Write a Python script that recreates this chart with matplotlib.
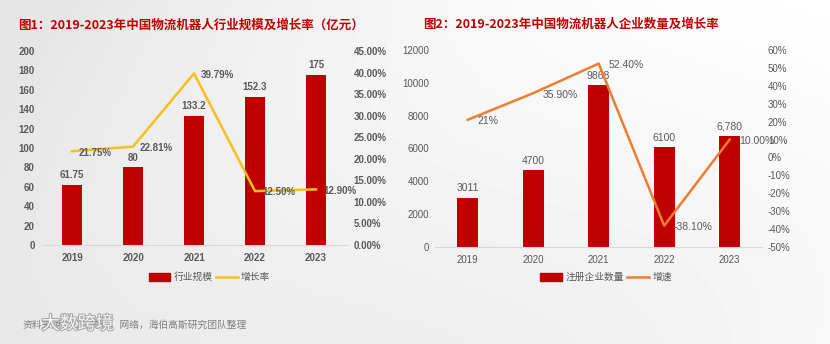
import numpy as np
import matplotlib.pyplot as plt
import matplotlib.patheffects as pe
from matplotlib.ticker import FuncFormatter

plt.rcParams['font.family'] = ['Noto Sans CJK SC', 'DejaVu Sans']

years = ['2019', '2020', '2021', '2022', '2023']

# chart 1: market size (100M yuan) and growth rate (%)
market_size = [61.75, 80, 133.2, 152.3, 175]
market_size_labels = ['61.75', '80', '133.2', '152.3', '175']
market_growth = [21.75, 22.81, 39.79, 12.50, 12.90]

# chart 2: registered companies and growth rate (%)
company_count = [3011, 4700, 9868, 6100, 6780]
company_count_labels = ['3011', '4700', '9868', '6100', '6,780']
company_growth = [21, 35.90, 52.40, -38.10, 10.00]
company_growth_labels = ['21%', '35.90%', '52.40%', '-38.10%', '10.00%']

RED = '#C00000'
GOLD = '#F5C01A'
ORANGE = '#ED7D31'
GREY = '#595959'
LAT = ['Liberation Sans', 'DejaVu Sans']

fig = plt.figure(figsize=(8.3, 3.44), dpi=100)

# soft grey-to-white backdrop
bg = fig.add_axes([0, 0, 1, 1], zorder=-10)
gx, gy = np.meshgrid(np.linspace(0, 1, 200), np.linspace(0, 1, 100))
shade = 0.90 + 0.10 * np.clip(gx * 1.1 - 0.15 + 0.25 * np.sin(3 * gx + 2 * gy), 0, 1)
bg.imshow(shade, cmap='gray', vmin=0, vmax=1, aspect='auto', extent=[0, 1, 0, 1])
bg.axis('off')

x = np.arange(len(years))


def style_axes(ax, ax2, bold, pad):
    for a in (ax, ax2):
        for s in ['top', 'left', 'right', 'bottom']:
            a.spines[s].set_visible(False)
        a.tick_params(length=0, colors=GREY, labelsize=7, pad=pad)
        for lab in a.get_xticklabels() + a.get_yticklabels():
            lab.set_fontweight('bold' if bold else 'normal')
            lab.set_family(LAT)
        a.set_facecolor('none')
    ax.spines['bottom'].set_visible(True)
    ax.spines['bottom'].set_color('#d9d9d9')


# ---- chart 1 ----
ax1 = fig.add_axes([0.05, 0.2878, 0.3675, 0.564])
ax1b = ax1.twinx()
ax1.bar(x, market_size, width=0.33, color=RED, zorder=2)
for xi, v, t in zip(x, market_size, market_size_labels):
    ax1.text(xi, v + 5, t, ha='center', va='bottom', fontsize=7, color=GREY,
             fontweight='bold', family=LAT)
ax1b.plot(x, market_growth, color=GOLD, lw=1.8, zorder=3)
for xi, v in zip(x, market_growth):
    ax1b.annotate('{:.2f}%'.format(v), (xi, v), xytext=(5, -1), textcoords='offset points',
                  ha='left', va='center', fontsize=7, color=GREY, fontweight='bold',
                  family=LAT)
ax1.set_xlim(-0.5, 4.5)
ax1.set_ylim(0, 200)
ax1.set_yticks(np.arange(0, 201, 20))
ax1b.set_ylim(0, 45)
ax1b.set_yticks(np.arange(0, 45.1, 5))
ax1b.yaxis.set_major_formatter(FuncFormatter(lambda v, p: '{:.2f}%'.format(v)))
ax1.set_xticks(x)
ax1.set_xticklabels(years)
style_axes(ax1, ax1b, True, 5)
ax1.tick_params(axis='x', pad=6)

# ---- chart 2 ----
ax2 = fig.add_axes([0.524, 0.282, 0.3946, 0.5727])
ax2b = ax2.twinx()
ax2.bar(x, company_count, width=0.32, color=RED, zorder=2)
for xi, v, t in zip(x, company_count, company_count_labels):
    ax2.text(xi, v + 250, t, ha='center', va='bottom', fontsize=7.5, color=GREY, family=LAT)
ax2b.plot(x, company_growth, color=ORANGE, lw=1.8, zorder=3)
for xi, v, t in zip(x, company_growth, company_growth_labels):
    ax2b.annotate(t, (xi, v), xytext=(7, -1), textcoords='offset points',
                  ha='left', va='center', fontsize=7.5, color=GREY, family=LAT)
ax2.set_xlim(-0.5, 4.5)
ax2.set_ylim(0, 12000)
ax2.set_yticks(np.arange(0, 12001, 2000))
ax2b.set_ylim(-50, 60)
ax2b.set_yticks(np.arange(-50, 61, 10))
ax2b.yaxis.set_major_formatter(FuncFormatter(lambda v, p: '{:.0f}%'.format(v)))
ax2.set_xticks(x)
ax2.set_xticklabels(years)
style_axes(ax2, ax2b, False, 4)
ax2.tick_params(axis='x', pad=6)

# titles
fig.text(0.022, 0.928, '图1：2019-2023年中国物流机器人行业规模及增长率（亿元）', color=RED,
         fontsize=9, fontweight='bold', va='center')
fig.text(0.51, 0.93, '图2：2019-2023年中国物流机器人企业数量及增长率', color=RED,
         fontsize=9, fontweight='bold', va='center')


# legends drawn in figure space
def legend_row(x0, y, items):
    cur = x0
    for kind, color, label in items:
        if kind == 'bar':
            fig.patches.append(plt.Rectangle((cur, y - 0.012), 0.026, 0.024, color=color,
                                             transform=fig.transFigure, figure=fig))
        else:
            fig.lines.append(plt.Line2D([cur, cur + 0.026], [y, y], color=color, lw=1.8,
                                        transform=fig.transFigure, figure=fig))
        fig.text(cur + 0.03, y, label, fontsize=7, color=GREY, va='center')
        cur += 0.03 + 0.0118 * len(label) + 0.004


legend_row(0.179, 0.195, [('bar', RED, '行业规模'), ('line', GOLD, '增长率')])
legend_row(0.651, 0.195, [('bar', RED, '注册企业数量'), ('line', ORANGE, '增速')])

# source note and watermark
fig.text(0.027, 0.055, '资料来源：公开资料，网络，海伯高斯研究团队整理', fontsize=7,
         color='#7f7f7f', style='italic', va='center')
fig.text(0.05, 0.058, '大数跨境', fontsize=13, color='white', va='center', alpha=0.9,
         path_effects=[pe.withStroke(linewidth=1.5, foreground='#a0a0a0')])

fig.savefig('out.png', dpi=100)
